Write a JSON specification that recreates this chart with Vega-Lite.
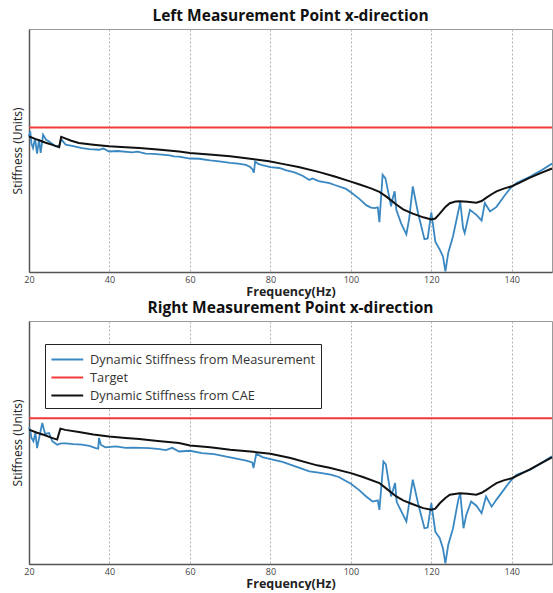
{
  "$schema": "https://vega.github.io/schema/vega-lite/v6.json",
  "padding": {"left": 10, "top": 8, "right": 0, "bottom": 0},
  "spacing": 2,
  "background": "white",
  "config": {
    "font": "Open Sans",
    "view": {"stroke": "#9a9a9a", "strokeWidth": 1},
    "title": {"font": "Open Sans", "fontSize": 15.5, "fontWeight": "bold", "color": "#111", "offset": 5},
    "axisX": {"labelFontSize": 9, "labelColor": "#444", "ticks": false, "grid": true, "gridDash": [2, 2], "gridColor": "#b0b0b0", "domainColor": "#555", "domainWidth": 1.5, "labelPadding": 3, "titleFontSize": 12.5, "titleFontWeight": "bold", "titleColor": "#222", "titlePadding": 1, "labelFlush": false},
    "axisY": {"labels": false, "ticks": false, "grid": false, "domainColor": "#555", "domainWidth": 1.5, "titleFontSize": 12, "titleFontWeight": "normal", "titleColor": "#222", "titlePadding": 5}
  },
  "datasets": {
    "leftMeas": [
      {"f":20,"v":55.8},{"f":20.3,"v":57.9},{"f":20.6,"v":53},{"f":21.0,"v":51.0},{"f":21.5,"v":55.0},{"f":22.0,"v":48.7},{"f":22.5,"v":54.5},{"f":22.9,"v":49},{"f":23.5,"v":56.5},{"f":24.2,"v":54.5},{"f":25.0,"v":53.7},{"f":26.0,"v":52.5},{"f":26.6,"v":51.7},{"f":27.5,"v":51.9},{"f":28.0,"v":54.7},{"f":29.1,"v":52.4},{"f":31,"v":51.8},{"f":33.2,"v":51.0},{"f":35,"v":50.6},{"f":37.4,"v":50.3},{"f":38.5,"v":50.8},{"f":39.9,"v":49.6},{"f":42,"v":49.8},{"f":45.7,"v":49.2},{"f":47,"v":49.5},{"f":49,"v":48.7},{"f":51,"v":48.6},{"f":53,"v":48.3},{"f":55,"v":48.0},{"f":56,"v":47.6},{"f":57.3,"v":47.5},{"f":60,"v":46.7},{"f":62.3,"v":46.6},{"f":65,"v":45.9},{"f":67.3,"v":45.5},{"f":70,"v":44.9},{"f":72,"v":44.6},{"f":73.9,"v":44.1},{"f":75.0,"v":43.2},{"f":75.6,"v":42.1},{"f":75.9,"v":40.9},{"f":76.2,"v":45.4},{"f":77,"v":44.5},{"f":78,"v":44.0},{"f":80,"v":43.2},{"f":82.2,"v":42.8},{"f":84,"v":41.8},{"f":86,"v":41.0},{"f":88,"v":39.6},{"f":89.7,"v":37.9},{"f":90.5,"v":38.5},{"f":92,"v":37.4},{"f":94.7,"v":36.6},{"f":96,"v":35.8},{"f":98.8,"v":34.2},{"f":100,"v":32.8},{"f":102.2,"v":30.0},{"f":103.8,"v":27.5},{"f":105,"v":26.5},{"f":105.9,"v":26.3},{"f":106.7,"v":26.6},{"f":107.1,"v":20.5},{"f":107.9,"v":40.0},{"f":108.6,"v":38.5},{"f":110,"v":27.0},{"f":110.5,"v":31},{"f":110.9,"v":33.2},{"f":111.3,"v":25.6},{"f":112.5,"v":20},{"f":113.8,"v":15.5},{"f":114.5,"v":22},{"f":115.4,"v":35.2},{"f":116.7,"v":24.3},{"f":118.3,"v":13.5},{"f":119.1,"v":13.8},{"f":120,"v":24.5},{"f":121,"v":12.5},{"f":122.1,"v":9.2},{"f":122.9,"v":6.4},{"f":123.5,"v":0.3},{"f":124.2,"v":7.8},{"f":125.4,"v":14.7},{"f":126.7,"v":24.9},{"f":127.2,"v":28.8},{"f":127.9,"v":18.1},{"f":128.3,"v":16},{"f":129.6,"v":25.6},{"f":131.2,"v":23.5},{"f":132.5,"v":21.2},{"f":133.3,"v":28.4},{"f":134.6,"v":24.9},{"f":136.2,"v":26.8},{"f":138,"v":31},{"f":139.6,"v":34.4},{"f":141.2,"v":36.6},{"f":144.6,"v":39.3},{"f":147,"v":41.5},{"f":150,"v":44.6}
    ],
    "leftCAE": [
      {"f":20,"v":55.8},{"f":22,"v":54.5},{"f":24,"v":53.3},{"f":26,"v":52.2},{"f":27.5,"v":51.4},{"f":28.0,"v":55.6},{"f":29,"v":55},{"f":30.5,"v":54},{"f":32.4,"v":53.1},{"f":36,"v":52.4},{"f":39.9,"v":51.7},{"f":44,"v":51.3},{"f":47.4,"v":51.0},{"f":52,"v":50.4},{"f":57.3,"v":49.6},{"f":60,"v":49.0},{"f":65.6,"v":48.3},{"f":70,"v":47.6},{"f":75,"v":46.6},{"f":79.7,"v":45.6},{"f":83,"v":44.5},{"f":87,"v":43.2},{"f":92.2,"v":41.1},{"f":96,"v":39.3},{"f":100,"v":37.2},{"f":102.2,"v":36.0},{"f":105,"v":34.4},{"f":107.1,"v":33.0},{"f":109,"v":30.8},{"f":111.3,"v":27.8},{"f":113,"v":25.8},{"f":115.4,"v":24.0},{"f":118,"v":22.5},{"f":120,"v":21.6},{"f":121,"v":22.0},{"f":122.1,"v":24.0},{"f":123.5,"v":26.8},{"f":124.6,"v":28.3},{"f":126,"v":29.0},{"f":127.1,"v":29.1},{"f":129,"v":28.9},{"f":131.2,"v":28.5},{"f":132.5,"v":29.2},{"f":133.7,"v":30.6},{"f":135,"v":32.0},{"f":136.2,"v":33.2},{"f":138,"v":34.3},{"f":140,"v":35.3},{"f":142,"v":36.8},{"f":144.4,"v":38.7},{"f":147,"v":40.6},{"f":150,"v":42.6}
    ],
    "rightMeas": [
      {"f":20,"v":56.3},{"f":20.3,"v":55},{"f":20.6,"v":52},{"f":21.1,"v":50.5},{"f":21.6,"v":54.0},{"f":22.0,"v":47.7},{"f":22.6,"v":52.5},{"f":23.3,"v":58.0},{"f":24.0,"v":53.5},{"f":25.0,"v":53.9},{"f":25.8,"v":50.5},{"f":27.0,"v":49.1},{"f":28,"v":49.6},{"f":29.1,"v":49.6},{"f":31,"v":49.3},{"f":33.2,"v":49.1},{"f":35,"v":48.6},{"f":36.6,"v":47.7},{"f":37.2,"v":47.5},{"f":37.4,"v":51.8},{"f":37.9,"v":49.0},{"f":39,"v":48.0},{"f":41.6,"v":48.4},{"f":44,"v":47.8},{"f":46,"v":47.9},{"f":49.8,"v":47.7},{"f":52,"v":47.4},{"f":54,"v":46.9},{"f":55.6,"v":47.8},{"f":57.3,"v":46.3},{"f":60,"v":46.6},{"f":63,"v":45.6},{"f":66,"v":45.2},{"f":70,"v":43.9},{"f":74,"v":42.5},{"f":75.5,"v":41.8},{"f":75.8,"v":39.5},{"f":76.5,"v":45.4},{"f":78,"v":44.0},{"f":80,"v":43.2},{"f":83,"v":42.0},{"f":86,"v":40.3},{"f":89.7,"v":38.1},{"f":92,"v":37.6},{"f":95,"v":36.8},{"f":97,"v":35.8},{"f":100,"v":33.0},{"f":102,"v":30.5},{"f":103.8,"v":27.8},{"f":105.4,"v":25.7},{"f":106.7,"v":26.2},{"f":107.1,"v":22.3},{"f":108.1,"v":42.2},{"f":108.7,"v":41.0},{"f":110,"v":27.8},{"f":111,"v":33.3},{"f":111.4,"v":25.5},{"f":113.8,"v":17.5},{"f":115.4,"v":34.7},{"f":116.7,"v":25.0},{"f":118.3,"v":14.7},{"f":119.1,"v":15.0},{"f":120,"v":25.0},{"f":121,"v":13.3},{"f":122.1,"v":10.6},{"f":122.9,"v":6.4},{"f":123.5,"v":0.3},{"f":124.2,"v":7.8},{"f":125.4,"v":14.7},{"f":126.7,"v":26.4},{"f":127.2,"v":29.1},{"f":128,"v":14.7},{"f":128.7,"v":20.2},{"f":129.9,"v":25.7},{"f":131.2,"v":24.0},{"f":132.5,"v":20.9},{"f":133.6,"v":27.8},{"f":135,"v":23.6},{"f":136.2,"v":26.5},{"f":138,"v":30.5},{"f":139.6,"v":34.0},{"f":141.2,"v":36.7},{"f":144.6,"v":38.8},{"f":147,"v":41.2},{"f":150,"v":44.3}
    ],
    "rightCAE": [
      {"f":20,"v":55.3},{"f":22,"v":54.0},{"f":24,"v":53.0},{"f":25.5,"v":52.0},{"f":27.0,"v":51.2},{"f":27.8,"v":55.7},{"f":29,"v":55.2},{"f":32.4,"v":54.3},{"f":36,"v":53.3},{"f":39.9,"v":52.5},{"f":44,"v":51.9},{"f":47.4,"v":51.4},{"f":52,"v":50.6},{"f":57.3,"v":49.8},{"f":60,"v":48.8},{"f":65,"v":48.0},{"f":70,"v":47.0},{"f":75,"v":46.3},{"f":80,"v":45.4},{"f":85,"v":43.6},{"f":91.6,"v":40.6},{"f":94.7,"v":39.6},{"f":100,"v":37.4},{"f":103,"v":35.8},{"f":107.1,"v":33.3},{"f":109,"v":30.8},{"f":111.3,"v":27.8},{"f":113,"v":26.2},{"f":115.4,"v":24.6},{"f":118,"v":23.0},{"f":120,"v":22.3},{"f":121,"v":22.8},{"f":122.1,"v":25.0},{"f":123.5,"v":27.2},{"f":124.6,"v":28.5},{"f":127.1,"v":29.1},{"f":129,"v":28.9},{"f":131.2,"v":28.5},{"f":132.5,"v":29.3},{"f":133.7,"v":30.5},{"f":135,"v":32.0},{"f":136.2,"v":33.3},{"f":138,"v":34.4},{"f":140,"v":35.3},{"f":142,"v":36.9},{"f":144.4,"v":38.8},{"f":147,"v":41.2},{"f":150,"v":43.9}
    ],
    "leftTarget": [{"v": 59.5}],
    "rightTarget": [{"v": 60}]
  },
  "resolve": {"scale": {"color": "independent"}, "legend": {"color": "independent"}},
  "vconcat": [
    {
      "title": "Left Measurement Point x-direction",
      "width": 523,
      "height": 243,
      "layer": [
        {
          "data": {"name": "leftTarget"},
          "mark": {"type": "rule", "strokeWidth": 2},
          "encoding": {
            "y": {"field": "v", "type": "quantitative", "scale": {"domain": [0, 100]}, "title": "Stiffness (Units)"},
            "color": {"datum": "Target", "type": "nominal", "scale": {"domain": ["Dynamic Stiffness from Measurement", "Target", "Dynamic Stiffness from CAE"], "range": ["#3a88c2", "#f23a3a", "#111111"]}, "legend": null}
          }
        },
        {
          "data": {"name": "leftMeas"},
          "mark": {"type": "line", "strokeWidth": 1.8},
          "encoding": {
            "x": {"field": "f", "type": "quantitative", "scale": {"domain": [20, 150], "nice": false}, "title": "Frequency(Hz)", "axis": {"values": [20, 40, 60, 80, 100, 120, 140]}},
            "y": {"field": "v", "type": "quantitative"},
            "color": {"datum": "Dynamic Stiffness from Measurement", "type": "nominal", "legend": null}
          }
        },
        {
          "data": {"name": "leftCAE"},
          "mark": {"type": "line", "strokeWidth": 2},
          "encoding": {
            "x": {"field": "f", "type": "quantitative"},
            "y": {"field": "v", "type": "quantitative"},
            "color": {"datum": "Dynamic Stiffness from CAE", "type": "nominal", "legend": null}
          }
        }
      ]
    },
    {
      "title": "Right Measurement Point x-direction",
      "width": 523,
      "height": 243,
      "layer": [
        {
          "data": {"name": "rightTarget"},
          "mark": {"type": "rule", "strokeWidth": 2},
          "encoding": {
            "y": {"field": "v", "type": "quantitative", "scale": {"domain": [0, 100]}, "title": "Stiffness (Units)"},
            "color": {"datum": "Target", "type": "nominal", "scale": {"domain": ["Dynamic Stiffness from Measurement", "Target", "Dynamic Stiffness from CAE"], "range": ["#3a88c2", "#f23a3a", "#111111"]},
              "legend": {"title": null, "orient": "none", "legendX": 16, "legendY": 23, "symbolType": "M-1,0H2.5", "symbolSize": 330, "symbolStrokeWidth": 2, "labelFontSize": 12.8, "labelLimit": 400, "labelColor": "#333", "labelFont": "Open Sans", "strokeColor": "#222", "fillColor": "white", "padding": 5, "rowPadding": 0, "labelOffset": 19}}
          }
        },
        {
          "data": {"name": "rightMeas"},
          "mark": {"type": "line", "strokeWidth": 1.8},
          "encoding": {
            "x": {"field": "f", "type": "quantitative", "scale": {"domain": [20, 150], "nice": false}, "title": "Frequency(Hz)", "axis": {"values": [20, 40, 60, 80, 100, 120, 140]}},
            "y": {"field": "v", "type": "quantitative"},
            "color": {"datum": "Dynamic Stiffness from Measurement", "type": "nominal"}
          }
        },
        {
          "data": {"name": "rightCAE"},
          "mark": {"type": "line", "strokeWidth": 2},
          "encoding": {
            "x": {"field": "f", "type": "quantitative"},
            "y": {"field": "v", "type": "quantitative"},
            "color": {"datum": "Dynamic Stiffness from CAE", "type": "nominal"}
          }
        }
      ]
    }
  ]
}
